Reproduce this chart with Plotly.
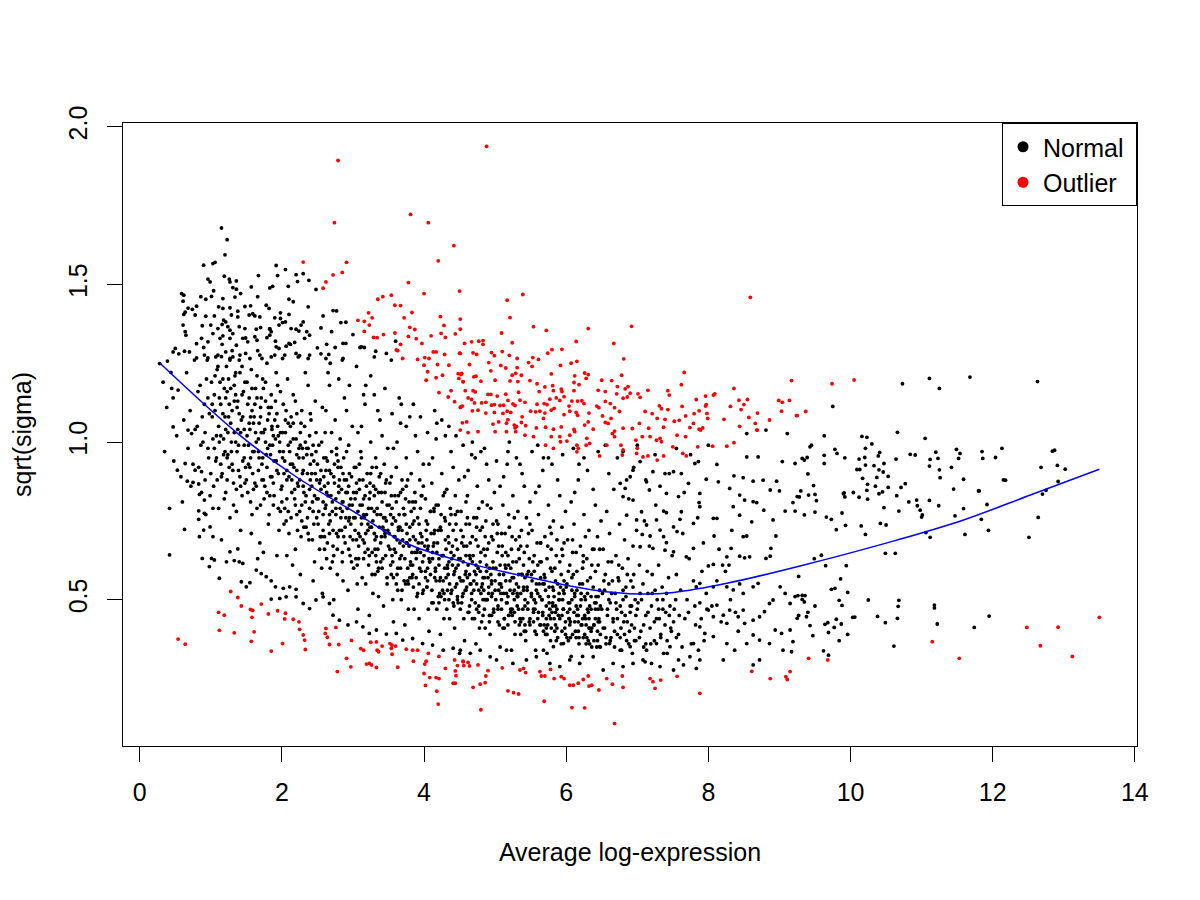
import plotly.graph_objects as go

# ---- data ----

# blue trend curve (sqrt(sigma) vs average log-expression)
trend_x = [0.29, 1.38, 2.20, 3.05, 3.75, 4.55, 5.44, 6.38, 7.04, 7.51, 8.26, 9.29, 10.65, 11.59, 12.53, 13.50]
trend_y = [1.249, 1.027, 0.890, 0.774, 0.679, 0.620, 0.573, 0.531, 0.518, 0.523, 0.552, 0.607, 0.689, 0.753, 0.832, 0.914]

# normal genes, upper left fringe
normal_upper_left = [
    (1.15,1.679),(1.23,1.642),(1.20,1.594),(0.90,1.561),(1.03,1.566),(1.06,1.57),(1.92,1.56),(2.05,1.547),(1.67,1.528),
    (1.19,1.526),(1.94,1.528),(2.20,1.531),(2.30,1.534),(0.96,1.517),(0.99,1.508),(1.26,1.517),(1.27,1.508),(1.36,1.511),
    (2.22,1.509),(2.38,1.513),(1.04,1.48),(1.31,1.49),(1.36,1.485),(1.57,1.492),(1.83,1.489),(1.87,1.494),(2.09,1.494),
    (2.48,1.484),(0.59,1.471),(0.62,1.466),(0.61,1.447),(0.86,1.461),(0.93,1.453),(1.01,1.462),(1.17,1.455),(1.34,1.46),
    (1.42,1.471),(1.66,1.461),(2.10,1.453),(2.16,1.445),(2.37,1.429),(0.64,1.412),(0.68,1.425),(0.74,1.421),(0.80,1.431),
    (1.11,1.429),(1.17,1.424),(1.27,1.426),(1.38,1.415),(1.48,1.43),(1.56,1.432),(1.78,1.434),(1.82,1.424),(1.98,1.41),
    (2.10,1.405),(2.72,1.417),(2.77,1.416),(0.62,1.405),(0.78,1.403),(0.93,1.399),(1.05,1.40),(1.18,1.387),(1.21,1.381),
    (1.29,1.403),(1.38,1.397),(1.54,1.403),(1.59,1.407),(1.69,1.397),(1.90,1.394),(1.98,1.392),(2.05,1.381),(2.30,1.381),
    (2.27,1.371),(2.55,1.362),(2.83,1.379),(0.61,1.371),(0.88,1.369),(1.00,1.371),(1.16,1.373),(1.24,1.366),(1.27,1.355),
    (1.31,1.344),(1.40,1.366),(1.48,1.36),(1.64,1.358),(1.70,1.363),(1.83,1.358),(1.85,1.35),(1.96,1.371),(2.01,1.379),
    (2.13,1.36),(2.20,1.358),(2.24,1.352),(2.39,1.339),(2.63,1.31),(2.86,1.313),(2.90,1.313),(3.00,1.341),(0.65,1.339),
    (0.80,1.312),(0.87,1.329),(1.03,1.344),(0.96,1.318),(1.13,1.329),(1.17,1.337),(1.27,1.329),(1.36,1.307),(1.45,1.329),
    (1.52,1.318),(1.62,1.334),(1.65,1.323),(1.79,1.331),(1.83,1.339),(1.92,1.302),(1.96,1.297),(2.06,1.304),(2.10,1.313),
    (2.18,1.316),(2.32,1.329),(2.50,1.299),(3.12,1.302),(3.16,1.30),(3.32,1.288),(0.47,1.286),(0.39,1.257),(0.50,1.297),
    (0.63,1.288),(0.70,1.286),(0.80,1.267),(0.91,1.276),(0.96,1.267),(1.10,1.276),(1.15,1.271),(1.21,1.286),(1.27,1.265),
    (1.31,1.27),(1.41,1.276),(1.49,1.281),(1.55,1.265),(1.69,1.276),(1.72,1.265),(1.85,1.27),(1.90,1.276),(2.01,1.265),
    (2.04,1.276),(2.20,1.281),(2.25,1.274),(2.37,1.265),(2.39,1.276),(2.62,1.265),(2.66,1.278),(2.86,1.265),(3.47,1.281),
    (3.54,1.26),(0.28,1.249),(0.44,1.221),(0.54,1.165),(0.47,1.14),(0.47,1.048),(0.68,1.038),(0.73,1.027),
    (2.55,1.28),(2.65,1.22),(2.75,1.30),(2.85,1.26),(2.95,1.18),(3.05,1.24),(3.15,1.15),(3.25,1.21),(3.35,1.10),
    (3.45,1.17),(3.55,1.09),(3.65,1.14),(3.75,1.05),(3.85,1.12),(3.95,1.08),(4.05,1.03),(4.15,1.10),(4.25,1.07),
    (4.35,1.05),(4.45,1.02),(2.58,1.40),(2.70,1.35),(2.90,1.38),(3.10,1.30),(3.30,1.27),(3.60,1.32),
]

# normal genes, lower left edge
normal_lower_left = [
    (0.53,0.911),(0.64,0.932),(0.67,0.876),(0.75,0.872),(0.83,0.867),(0.78,0.911),(0.87,0.906),(0.63,0.723),(0.42,0.642),
    (0.84,0.834),(0.91,0.816),(0.83,0.782),(0.91,0.774),(0.83,0.755),(0.90,0.721),(0.99,0.731),(1.03,0.70),(0.88,0.631),
    (1.01,0.631),(1.05,0.626),(0.98,0.605),(1.12,0.568),(1.27,0.652),(1.38,0.661),(1.22,0.62),(1.33,0.624),(1.43,0.557),
    (1.50,0.541),(1.55,0.554),(1.40,0.62),(1.45,0.615),(1.64,0.594),(1.71,0.583),(1.78,0.573),(1.85,0.56),(1.91,0.541),
    (2.02,0.536),(2.11,0.541),(2.20,0.533),(1.85,0.502),(1.97,0.504),(2.06,0.509),(2.20,0.509),(2.30,0.488),(2.39,0.472),
    (2.48,0.499),(2.58,0.509),(2.67,0.488),(2.72,0.451),(2.81,0.435),(2.93,0.42),(3.05,0.43),(3.14,0.414),(3.23,0.393),
    (3.33,0.404),(3.47,0.391),(3.61,0.393),(3.70,0.372),(3.84,0.377),(3.98,0.361),(4.12,0.356),(4.27,0.34),(4.41,0.346),
    (4.50,0.33),(4.51,0.34),(4.65,0.33),(4.79,0.34),(4.93,0.319),(5.02,0.309),(5.16,0.34),(5.25,0.298),(5.44,0.309),
    (5.58,0.319),(5.77,0.298),(5.91,0.288),(6.05,0.309),(6.19,0.298),(6.38,0.319),(6.52,0.277),(6.66,0.298),(6.80,0.288),
    (6.94,0.298),(7.08,0.309),(5.68,0.34),(5.82,0.351),(5.96,0.361),(6.47,0.351),(6.61,0.361),(6.76,0.34),(6.90,0.351),
    (7.13,0.34),(7.27,0.361),(7.37,0.33),(7.46,0.351),
]

# normal genes, dense band from x = 0.3 to 2.5
normal_core_left = [
    (1.02,1.12),(1.05,0.98),(1.07,1.27),(1.09,0.88),(1.11,1.05),(1.13,1.19),(1.14,0.93),(1.16,1.31),(1.18,1.01),(1.19,0.82),
    (1.21,1.14),(1.22,1.24),(1.24,0.96),(1.25,1.08),(1.27,0.76),(1.28,1.17),(1.30,1.29),(1.31,0.91),(1.33,1.03),(1.34,1.21),
    (1.36,0.85),(1.37,1.11),(1.39,0.99),(1.40,1.26),(1.42,0.72),(1.43,1.07),(1.45,0.94),(1.46,1.16),(1.48,0.87),(1.49,1.33),
    (1.03,0.79),(1.06,1.21),(1.10,1.36),(1.15,0.69),(1.20,0.97),(1.26,1.12),(1.32,0.80),(1.38,1.04),(1.44,1.24),(1.47,0.99),
    (1.08,1.02),(1.17,1.09),(1.23,0.88),(1.29,1.00),(1.35,1.15),(1.41,0.89),(0.96,1.14),(0.92,1.03),(0.97,0.95),(0.94,1.20),
    (0.88,1.08),(0.99,0.83),(0.93,0.77),(0.86,0.99),(0.82,1.16),(0.78,1.04),(0.75,0.93),(0.71,1.10),(0.68,0.98),(0.66,1.22),
    (0.62,1.07),(0.58,0.89),(0.55,1.28),(0.52,1.02),(0.48,0.94),(0.45,1.17),(0.42,0.79),(0.38,1.11),(0.35,0.97),(0.33,1.19),
    (0.60,0.81),(0.72,0.86),(0.84,0.70),(0.90,1.30),(0.77,1.26),(0.64,1.35),
    (1.51,1.02),(1.52,0.84),(1.54,1.14),(1.55,0.92),(1.57,1.23),(1.58,0.77),(1.60,1.06),(1.61,0.97),(1.63,1.17),(1.64,0.86),
    (1.66,1.29),(1.67,1.01),(1.69,0.68),(1.70,1.11),(1.72,0.93),(1.73,1.20),(1.75,0.82),(1.76,1.04),(1.78,0.96),(1.79,1.25),
    (1.81,0.74),(1.82,1.09),(1.84,0.89),(1.85,1.15),(1.87,0.99),(1.88,0.80),(1.90,1.07),(1.91,1.32),(1.93,0.91),(1.94,1.18),
    (1.96,0.72),(1.97,1.00),(1.99,0.85),(1.53,0.99),(1.56,1.08),(1.59,0.90),(1.62,1.12),(1.65,0.79),(1.68,0.95),(1.71,1.03),
    (1.74,0.88),(1.77,1.13),(1.80,0.98),(1.83,0.83),(1.86,1.05),(1.89,0.94),(1.92,1.22),(1.95,1.02),(1.98,0.78),(1.57,0.71),
    (1.66,0.63),(1.74,0.65),(1.83,1.36),(1.62,1.40),(1.93,0.64),
    (2.01,0.95),(2.02,1.12),(2.04,0.79),(2.05,1.03),(2.07,0.88),(2.08,1.20),(2.10,0.71),(2.11,0.97),(2.13,1.08),(2.14,0.84),
    (2.16,1.15),(2.17,0.92),(2.19,0.66),(2.20,1.01),(2.22,0.87),(2.23,1.27),(2.25,0.78),(2.26,0.99),(2.28,1.10),(2.29,0.90),
    (2.31,0.73),(2.32,1.05),(2.34,0.83),(2.35,0.96),(2.37,1.18),(2.38,0.69),(2.40,0.93),(2.41,1.07),(2.43,0.81),(2.44,0.99),
    (2.46,0.62),(2.47,1.13),(2.49,0.88),(2.03,0.90),(2.06,0.75),(2.09,1.06),(2.12,0.93),(2.15,0.61),(2.18,0.82),(2.21,1.09),
    (2.24,0.95),(2.27,0.70),(2.30,0.86),(2.33,1.22),(2.36,0.76),(2.39,1.02),(2.42,0.90),(2.45,0.74),(2.48,0.97),(2.12,1.31),
    (2.26,0.58),(2.35,1.35),(2.44,0.56),(2.07,0.64),(2.21,0.77),(2.39,0.85),(2.29,0.98),
    (0.81,1.05),(0.83,0.92),(0.85,1.18),(0.87,0.84),(0.89,1.00),(0.91,1.12),(0.92,0.88),(0.95,1.26),(0.96,0.98),(0.98,1.09),
    (1.00,0.90),(1.01,1.19),(1.03,1.01),(1.04,0.86),(1.06,1.10),(1.08,0.95),(1.09,1.23),(1.11,0.79),(1.12,1.14),(1.14,1.02),
    (1.15,0.89),(1.17,1.20),(1.18,0.96),(1.20,1.08),(1.21,0.84),(1.23,1.16),(1.24,1.03),(1.26,0.92),(1.27,1.26),(1.29,0.97),
    (1.30,1.10),(1.32,0.87),(1.33,1.18),(1.35,1.00),(1.36,0.78),(1.38,1.13),(1.39,0.91),(1.41,1.22),(1.42,1.03),(1.44,0.83),
    (1.45,1.08),(1.47,0.95),(1.48,1.19),(1.50,0.88),(1.52,1.12),(1.53,0.93),(1.55,1.04),(1.56,0.81),(1.58,1.17),(1.59,0.97),
    (1.61,1.08),(1.62,0.87),(1.64,1.00),(1.65,1.21),(1.67,0.91),(1.68,1.06),(1.70,0.80),(1.71,1.14),(1.73,0.95),(1.74,1.03),
    (1.76,0.86),(1.77,1.19),(1.79,0.92),(1.80,1.07),(1.82,0.77),(1.83,0.99),(1.85,1.11),(1.86,0.89),(1.88,1.02),(1.89,0.83),
    (1.91,1.13),(1.92,0.94),(1.94,1.05),(1.95,0.79),(1.97,0.97),(1.98,1.16),(2.00,0.86),(2.01,1.03),(2.03,0.74),(2.04,0.94),
    (2.06,1.10),(2.07,0.82),(2.09,0.99),(2.10,0.89),(2.12,1.05),(2.13,0.76),(2.15,0.93),(2.16,1.01),(2.18,0.85),(2.19,1.13),
    (2.21,0.91),(2.22,0.72),(2.24,0.98),(2.25,0.88),(2.27,1.06),(2.28,0.80),(2.30,0.95),(2.31,0.84),(2.33,1.00),(2.34,0.73),
    (2.36,0.90),(2.37,0.98),(2.39,0.79),(2.40,1.09),(2.42,0.86),(2.43,0.69),(2.45,0.94),(2.46,0.83),(2.48,1.03),(2.49,0.76),
    (1.02,1.08),(1.05,1.15),(1.07,0.94),(1.10,1.24),(1.12,1.00),(1.14,1.12),(1.16,0.90),(1.19,1.17),(1.21,1.04),(1.23,0.95),
    (1.25,1.20),(1.28,1.06),(1.30,0.93),(1.33,1.13),(1.35,1.22),(1.37,0.97),(1.40,1.09),(1.42,0.86),(1.44,1.15),(1.47,1.04),
    (1.49,0.92),(1.51,1.19),(1.54,1.06),(1.56,0.95),(1.58,1.10),(1.60,0.85),(1.63,1.03),(1.65,1.14),(1.67,0.97),(1.70,1.08),
    (1.72,0.88),(1.74,1.17),(1.77,1.00),(1.79,0.84),(1.81,1.11),(1.84,0.96),(1.86,1.04),(1.88,0.87),(1.91,1.01),(1.93,1.09),
    (1.95,0.90),(1.98,1.03),(2.00,0.81),(2.02,0.97),(2.05,1.07),(2.07,0.91),(2.09,0.78),(2.12,1.00),(2.14,0.88),(2.16,1.06),
    (2.19,0.80),(2.21,0.96),(2.23,0.86),(2.26,1.03),(2.28,0.75),(2.30,0.91),(2.33,0.81),(2.35,0.98),(2.37,0.71),(2.40,0.88),
    (2.42,0.96),(2.44,0.78),(2.47,0.90),(2.49,0.82),
]

# normal genes, dense band from x = 2.5 to 4.5
normal_core_mid = [
    (2.51,0.82),(2.52,0.99),(2.54,0.70),(2.55,0.91),(2.57,1.11),(2.58,0.77),(2.60,0.86),(2.61,1.03),(2.63,0.63),(2.64,0.94),
    (2.66,0.74),(2.67,1.18),(2.69,0.83),(2.70,0.97),(2.72,0.67),(2.73,0.89),(2.75,1.07),(2.76,0.79),(2.78,0.58),(2.79,0.92),
    (2.81,0.72),(2.82,1.01),(2.84,0.85),(2.85,0.65),(2.87,0.95),(2.88,1.14),(2.90,0.76),(2.91,0.88),(2.93,0.53),(2.94,0.99),
    (2.96,0.70),(2.97,0.82),(2.99,1.05),(2.53,0.87),(2.56,0.60),(2.59,0.95),(2.62,0.80),(2.65,0.87),(2.68,0.60),(2.71,0.78),
    (2.74,0.93),(2.77,0.71),(2.80,0.84),(2.83,0.76),(2.86,0.90),(2.89,0.68),(2.92,0.79),(2.95,0.90),(2.98,0.62),(2.57,0.52),
    (2.68,1.25),(2.80,1.20),(2.91,1.10),(2.73,0.50),(2.62,1.10),(2.86,0.56),(2.95,0.76),(2.67,0.71),(2.77,0.98),
    (3.01,0.76),(3.02,0.92),(3.04,0.63),(3.05,0.84),(3.07,1.03),(3.08,0.71),(3.10,0.80),(3.11,0.97),(3.13,0.57),(3.14,0.88),
    (3.16,0.68),(3.17,1.12),(3.19,0.77),(3.20,0.90),(3.22,0.61),(3.23,0.82),(3.25,1.00),(3.26,0.73),(3.28,0.52),(3.29,0.86),
    (3.31,0.66),(3.32,0.95),(3.34,0.79),(3.35,0.59),(3.37,0.89),(3.38,1.07),(3.40,0.70),(3.41,0.81),(3.43,0.48),(3.44,0.93),
    (3.46,0.64),(3.47,0.75),(3.49,0.98),(3.03,0.82),(3.06,0.55),(3.09,0.88),(3.12,0.74),(3.15,0.82),(3.18,0.55),(3.21,0.72),
    (3.24,0.87),(3.27,0.65),(3.30,0.78),(3.33,0.70),(3.36,0.84),(3.39,0.62),(3.42,0.73),(3.45,0.84),(3.48,0.57),(3.07,0.47),
    (3.18,1.18),(3.30,1.15),(3.41,1.02),(3.23,0.45),(3.12,1.05),(3.36,0.51),(3.45,0.70),(3.17,0.65),(3.27,0.92),(3.05,0.69),
    (3.33,0.62),(3.47,0.88),
    (3.51,0.71),(3.52,0.87),(3.54,0.58),(3.55,0.79),(3.57,0.98),(3.58,0.66),(3.60,0.75),(3.61,0.92),(3.63,0.53),(3.64,0.83),
    (3.66,0.63),(3.67,1.06),(3.69,0.72),(3.70,0.85),(3.72,0.56),(3.73,0.77),(3.75,0.95),(3.76,0.68),(3.78,0.47),(3.79,0.81),
    (3.81,0.61),(3.82,0.90),(3.84,0.74),(3.85,0.54),(3.87,0.84),(3.88,1.02),(3.90,0.65),(3.91,0.76),(3.93,0.44),(3.94,0.88),
    (3.96,0.59),(3.97,0.70),(3.99,0.93),(3.53,0.77),(3.56,0.50),(3.59,0.83),(3.62,0.69),(3.65,0.77),(3.68,0.50),(3.71,0.67),
    (3.74,0.82),(3.77,0.60),(3.80,0.73),(3.83,0.65),(3.86,0.79),(3.89,0.57),(3.92,0.68),(3.95,0.79),(3.98,0.52),(3.57,0.43),
    (3.68,1.12),(3.80,1.08),(3.91,0.97),(3.73,0.42),(3.62,1.00),(3.86,0.47),(3.95,0.65),(3.67,0.60),(3.77,0.88),(3.55,0.64),
    (3.83,0.57),(3.97,0.83),(3.64,0.72),(3.74,0.55),(3.88,0.69),
    (4.01,0.67),(4.02,0.82),(4.04,0.54),(4.05,0.74),(4.07,0.93),(4.08,0.62),(4.10,0.71),(4.11,0.87),(4.13,0.49),(4.14,0.78),
    (4.16,0.59),(4.17,1.01),(4.19,0.68),(4.20,0.80),(4.22,0.52),(4.23,0.73),(4.25,0.90),(4.26,0.64),(4.28,0.44),(4.29,0.76),
    (4.31,0.57),(4.32,0.85),(4.34,0.70),(4.35,0.50),(4.37,0.79),(4.38,0.97),(4.40,0.61),(4.41,0.72),(4.43,0.41),(4.44,0.83),
    (4.46,0.55),(4.47,0.66),(4.49,0.88),(4.03,0.72),(4.06,0.47),(4.09,0.78),(4.12,0.65),(4.15,0.72),(4.18,0.47),(4.21,0.63),
    (4.24,0.77),(4.27,0.56),(4.30,0.69),(4.33,0.61),(4.36,0.74),(4.39,0.53),(4.42,0.64),(4.45,0.74),(4.48,0.49),(4.07,0.40),
    (4.18,1.06),(4.30,1.02),(4.41,0.92),(4.23,0.39),(4.12,0.95),(4.36,0.44),(4.45,0.60),(4.17,0.56),(4.27,0.83),(4.05,0.60),
    (4.33,0.53),(4.47,0.78),(4.14,0.68),(4.24,0.51),(4.38,0.65),(4.09,0.58),(4.42,0.48),
    (2.50,0.93),(2.52,0.78),(2.53,0.66),(2.55,0.85),(2.56,1.00),(2.58,0.72),(2.59,0.89),(2.61,0.79),(2.62,0.95),(2.64,0.68),
    (2.65,0.83),(2.67,0.91),(2.68,0.75),(2.70,1.03),(2.71,0.81),(2.73,0.64),(2.74,0.87),(2.76,0.77),(2.77,0.96),(2.79,0.70),
    (2.80,0.86),(2.82,0.79),(2.83,0.92),(2.85,0.62),(2.86,0.81),(2.88,0.88),(2.89,0.73),(2.91,0.97),(2.92,0.84),(2.94,0.66),
    (2.95,0.80),(2.97,0.74),(2.98,0.89),(3.00,0.69),(3.01,0.84),(3.03,0.76),(3.04,0.92),(3.06,0.61),(3.07,0.78),(3.09,0.85),
    (3.10,0.70),(3.12,0.95),(3.13,0.80),(3.15,0.63),(3.16,0.76),(3.18,0.71),(3.19,0.86),(3.21,0.66),(3.22,0.79),(3.24,0.73),
    (3.25,0.90),(3.27,0.58),(3.28,0.75),(3.30,0.83),(3.31,0.69),(3.33,0.92),(3.34,0.77),(3.36,0.60),(3.37,0.73),(3.39,0.68),
    (3.40,0.84),(3.42,0.63),(3.43,0.76),(3.45,0.71),(3.46,0.87),(3.48,0.55),(3.49,0.72),(3.51,0.80),(3.52,0.66),(3.54,0.89),
    (3.55,0.74),(3.57,0.57),(3.58,0.70),(3.60,0.65),(3.61,0.81),(3.63,0.60),(3.64,0.73),(3.66,0.68),(3.67,0.84),(3.69,0.53),
    (3.70,0.69),(3.72,0.77),(3.73,0.63),(3.75,0.86),(3.76,0.71),(3.78,0.55),(3.79,0.67),(3.81,0.62),(3.82,0.78),(3.84,0.58),
    (3.85,0.70),(3.87,0.65),(3.88,0.81),(3.90,0.51),(3.91,0.66),(3.93,0.74),(3.94,0.60),(3.96,0.83),(3.97,0.68),(3.99,0.53),
    (4.00,0.64),(4.02,0.59),(4.03,0.75),(4.05,0.56),(4.06,0.67),(4.08,0.62),(4.09,0.78),(4.11,0.49),(4.12,0.63),(4.14,0.71),
    (4.15,0.57),(4.17,0.80),(4.18,0.65),(4.20,0.51),(4.21,0.61),(4.23,0.57),(4.24,0.72),(4.26,0.53),(4.27,0.64),(4.29,0.60),
    (4.30,0.75),(4.32,0.47),(4.33,0.60),(4.35,0.68),(4.36,0.55),(4.38,0.77),(4.39,0.63),(4.41,0.49),(4.42,0.58),(4.44,0.54),
    (4.45,0.69),(4.47,0.51),(4.48,0.61),(2.60,0.70),(2.84,0.72),(3.08,0.67),(3.32,0.64),(3.56,0.62),(3.80,0.57),(4.04,0.54),
    (4.28,0.52),
    (2.51,0.74),(2.54,0.88),(2.58,0.81),(2.60,0.66),(2.63,0.84),(2.67,0.77),(2.69,0.90),(2.72,0.72),(2.76,0.82),(2.78,0.66),
    (2.81,0.88),(2.85,0.78),(2.87,0.70),(2.90,0.84),(2.94,0.75),(2.96,0.64),(2.99,0.80),(3.03,0.72),(3.05,0.87),(3.08,0.63),
    (3.12,0.76),(3.14,0.69),(3.17,0.83),(3.21,0.74),(3.23,0.64),(3.26,0.79),(3.30,0.71),(3.32,0.85),(3.35,0.66),(3.39,0.77),
    (3.41,0.60),(3.44,0.72),(3.48,0.80),(3.50,0.67),(3.53,0.61),(3.57,0.76),(3.59,0.70),(3.62,0.58),(3.66,0.73),(3.68,0.64),
    (3.71,0.79),(3.75,0.68),(3.77,0.56),(3.80,0.69),(3.84,0.61),(3.86,0.75),(3.89,0.63),(3.93,0.55),(3.95,0.71),(3.98,0.62),
    (4.02,0.57),(4.04,0.69),(4.07,0.63),(4.11,0.53),(4.13,0.67),(4.16,0.60),(4.20,0.72),(4.22,0.56),(4.25,0.64),(4.29,0.50),
    (4.31,0.66),(4.34,0.58),(4.38,0.52),(4.40,0.67),(4.43,0.59),(4.47,0.50),(4.49,0.63),
    (2.56,0.70),(2.71,0.62),(2.85,0.81),(3.01,0.60),(3.15,0.77),(3.31,0.58),(3.45,0.76),(3.61,0.55),(3.75,0.74),(3.91,0.52),
    (4.05,0.66),(4.21,0.49),(4.35,0.62),(2.62,0.91),(2.79,0.94),(2.94,0.86),(3.09,0.93),(3.24,0.84),(3.39,0.90),(3.54,0.83),
    (3.69,0.88),(3.84,0.81),(3.99,0.86),(4.14,0.79),(4.29,0.84),(4.44,0.77),
]

# normal genes, dense band from x = 4.5 to 8
normal_core_right = [
    (4.51,0.63),(4.52,0.78),(4.54,0.51),(4.55,0.70),(4.57,0.89),(4.58,0.58),(4.60,0.67),(4.61,0.83),(4.63,0.46),(4.64,0.74),
    (4.66,0.55),(4.67,0.96),(4.69,0.64),(4.70,0.76),(4.72,0.49),(4.73,0.69),(4.75,0.86),(4.76,0.60),(4.78,0.41),(4.79,0.72),
    (4.81,0.54),(4.82,0.81),(4.84,0.66),(4.85,0.47),(4.87,0.75),(4.88,0.93),(4.90,0.57),(4.91,0.68),(4.93,0.39),(4.94,0.79),
    (4.96,0.52),(4.97,0.62),(4.99,0.84),(4.53,0.68),(4.56,0.44),(4.59,0.74),(4.62,0.61),(4.65,0.68),(4.68,0.44),(4.71,0.59),
    (4.74,0.73),(4.77,0.53),(4.80,0.65),(4.83,0.57),(4.86,0.70),(4.89,0.50),(4.92,0.60),(4.95,0.70),(4.98,0.46),(4.57,0.37),
    (4.68,1.00),(4.80,0.97),(4.91,0.88),(4.73,0.36),(4.62,0.91),(4.86,0.41),(4.95,0.56),(4.67,0.52),(4.77,0.79),(4.55,0.56),
    (4.83,0.50),(4.97,0.74),(4.64,0.64),(4.74,0.47),(4.88,0.61),(4.59,0.53),(4.92,0.45),
    (5.01,0.60),(5.02,0.75),(5.04,0.48),(5.05,0.67),(5.07,0.86),(5.08,0.55),(5.10,0.64),(5.11,0.80),(5.13,0.44),(5.14,0.71),
    (5.16,0.52),(5.17,0.93),(5.19,0.61),(5.20,0.73),(5.22,0.46),(5.23,0.66),(5.25,0.83),(5.26,0.57),(5.28,0.39),(5.29,0.69),
    (5.31,0.51),(5.32,0.78),(5.34,0.63),(5.35,0.44),(5.37,0.72),(5.38,0.90),(5.40,0.54),(5.41,0.65),(5.43,0.37),(5.44,0.76),
    (5.46,0.49),(5.47,0.59),(5.49,0.81),(5.03,0.65),(5.06,0.42),(5.09,0.71),(5.12,0.58),(5.15,0.65),(5.18,0.42),(5.21,0.56),
    (5.24,0.70),(5.27,0.50),(5.30,0.62),(5.33,0.54),(5.36,0.67),(5.39,0.47),(5.42,0.57),(5.45,0.67),(5.48,0.43),(5.07,0.35),
    (5.18,0.97),(5.30,0.95),(5.41,0.86),(5.23,0.34),(5.12,0.89),(5.36,0.39),(5.45,0.53),(5.17,0.49),(5.27,0.76),(5.05,0.53),
    (5.33,0.47),(5.47,0.71),(5.14,0.61),(5.24,0.45),(5.38,0.58),(5.09,0.50),(5.42,0.42),
    (5.51,0.58),(5.52,0.72),(5.54,0.46),(5.55,0.64),(5.57,0.84),(5.58,0.53),(5.60,0.61),(5.61,0.77),(5.63,0.42),(5.64,0.68),
    (5.66,0.50),(5.67,0.91),(5.69,0.58),(5.70,0.70),(5.72,0.44),(5.73,0.63),(5.75,0.80),(5.76,0.54),(5.78,0.37),(5.79,0.66),
    (5.81,0.49),(5.82,0.75),(5.84,0.60),(5.85,0.42),(5.87,0.69),(5.88,0.88),(5.90,0.52),(5.91,0.62),(5.93,0.36),(5.94,0.73),
    (5.96,0.47),(5.97,0.56),(5.99,0.78),(5.53,0.62),(5.56,0.40),(5.59,0.68),(5.62,0.55),(5.65,0.62),(5.68,0.40),(5.71,0.53),
    (5.74,0.67),(5.77,0.47),(5.80,0.59),(5.83,0.51),(5.86,0.64),(5.89,0.45),(5.92,0.54),(5.95,0.64),(5.98,0.41),(5.57,0.34),
    (5.68,0.95),(5.80,0.93),(5.91,0.83),(5.73,0.33),(5.62,0.86),(5.86,0.37),(5.95,0.50),(5.67,0.46),(5.77,0.73),(5.55,0.50),
    (5.83,0.44),(5.97,0.68),(5.64,0.57),(5.74,0.42),(5.88,0.55),
    (6.01,0.55),(6.02,0.69),(6.04,0.44),(6.05,0.61),(6.07,0.81),(6.08,0.50),(6.10,0.58),(6.11,0.74),(6.13,0.40),(6.14,0.65),
    (6.16,0.47),(6.17,0.88),(6.19,0.55),(6.20,0.67),(6.22,0.42),(6.23,0.60),(6.25,0.77),(6.26,0.51),(6.28,0.36),(6.29,0.63),
    (6.31,0.46),(6.32,0.72),(6.34,0.57),(6.35,0.40),(6.37,0.66),(6.38,0.85),(6.40,0.49),(6.41,0.59),(6.43,0.35),(6.44,0.70),
    (6.46,0.44),(6.47,0.53),(6.49,0.75),(6.03,0.59),(6.06,0.38),(6.09,0.65),(6.12,0.52),(6.15,0.59),(6.18,0.38),(6.21,0.50),
    (6.24,0.64),(6.27,0.44),(6.30,0.56),(6.33,0.48),(6.36,0.61),(6.39,0.42),(6.42,0.51),(6.45,0.61),(6.48,0.39),(6.07,0.32),
    (6.18,0.93),(6.30,0.91),(6.41,0.80),(6.23,0.32),(6.12,0.84),(6.36,0.35),(6.45,0.47),(6.17,0.43),(6.27,0.70),(6.05,0.47),
    (6.33,0.41),(6.47,0.66),
    (6.51,0.52),(6.52,0.66),(6.54,0.41),(6.55,0.58),(6.57,0.78),(6.58,0.47),(6.60,0.55),(6.61,0.71),(6.63,0.38),(6.64,0.62),
    (6.66,0.44),(6.67,0.85),(6.69,0.52),(6.70,0.64),(6.72,0.39),(6.73,0.57),(6.75,0.74),(6.76,0.48),(6.78,0.34),(6.79,0.60),
    (6.81,0.43),(6.82,0.69),(6.84,0.54),(6.85,0.37),(6.87,0.63),(6.88,0.82),(6.90,0.46),(6.91,0.56),(6.93,0.33),(6.94,0.67),
    (6.96,0.41),(6.97,0.50),(6.99,0.72),(6.53,0.56),(6.56,0.36),(6.59,0.62),(6.62,0.49),(6.65,0.56),(6.68,0.35),(6.71,0.47),
    (6.74,0.61),(6.77,0.41),(6.80,0.53),(6.83,0.45),(6.86,0.58),(6.89,0.40),(6.92,0.48),(6.95,0.58),(6.98,0.37),(6.60,0.90),
    (6.72,0.95),(6.85,0.88),(6.95,0.92),
    (7.01,0.49),(7.03,0.61),(7.05,0.40),(7.08,0.55),(7.10,0.75),(7.12,0.45),(7.15,0.52),(7.17,0.67),(7.19,0.36),(7.21,0.58),
    (7.24,0.43),(7.26,0.80),(7.28,0.50),(7.30,0.61),(7.33,0.38),(7.35,0.54),(7.37,0.70),(7.40,0.46),(7.42,0.33),(7.44,0.57),
    (7.47,0.41),(7.49,0.64),(7.04,0.52),(7.09,0.35),(7.14,0.59),(7.20,0.48),(7.25,0.53),(7.31,0.44),(7.36,0.47),(7.41,0.52),
    (7.46,0.48),(7.12,0.88),(7.32,0.86),(7.45,0.90),
    (7.52,0.47),(7.55,0.58),(7.58,0.39),(7.61,0.53),(7.64,0.71),(7.67,0.44),(7.70,0.50),(7.73,0.63),(7.76,0.36),(7.79,0.56),
    (7.82,0.42),(7.85,0.76),(7.88,0.49),(7.91,0.59),(7.94,0.37),(7.97,0.52),(7.54,0.50),(7.63,0.35),(7.72,0.46),(7.81,0.48),
    (7.90,0.44),(7.98,0.47),(7.66,0.84),(7.93,0.68),
    (4.55,0.99),(4.72,0.95),(4.85,0.98),(5.02,0.94),(5.20,1.00),(5.35,0.93),(5.52,0.97),(5.60,0.99),(5.75,0.95),(5.95,0.96),
    (6.10,0.98),(6.25,0.95),(6.45,0.97),(6.55,0.99),(6.80,0.97),(7.00,0.99),(7.25,0.96),(7.55,0.98),(7.75,0.96),(8.00,0.99),
    (4.50,0.57),(4.52,0.72),(4.53,0.49),(4.55,0.62),(4.56,0.67),(4.58,0.53),(4.59,0.59),(4.61,0.76),(4.62,0.46),(4.64,0.58),
    (4.65,0.63),(4.67,0.50),(4.68,0.70),(4.70,0.56),(4.71,0.44),(4.73,0.61),(4.74,0.55),(4.76,0.67),(4.77,0.48),(4.79,0.59),
    (4.80,0.52),(4.82,0.73),(4.83,0.45),(4.85,0.57),(4.86,0.64),(4.88,0.50),(4.89,0.66),(4.91,0.54),(4.92,0.43),(4.94,0.58),
    (4.95,0.51),(4.97,0.69),(4.98,0.47),(5.00,0.56),(5.01,0.50),(5.03,0.71),(5.04,0.43),(5.06,0.55),(5.07,0.61),(5.09,0.47),
    (5.10,0.67),(5.12,0.52),(5.13,0.41),(5.15,0.56),(5.16,0.49),(5.18,0.64),(5.19,0.45),(5.21,0.53),(5.22,0.60),(5.24,0.47),
    (5.25,0.62),(5.27,0.53),(5.28,0.43),(5.30,0.55),(5.31,0.48),(5.33,0.66),(5.34,0.42),(5.36,0.52),(5.37,0.58),(5.39,0.44),
    (5.40,0.61),(5.42,0.50),(5.43,0.40),(5.45,0.54),(5.46,0.47),(5.48,0.63),(5.49,0.44),(5.51,0.51),(5.52,0.56),(5.54,0.43),
    (5.55,0.59),(5.57,0.49),(5.58,0.39),(5.60,0.52),(5.61,0.46),(5.63,0.62),(5.64,0.42),(5.66,0.50),(5.67,0.55),(5.69,0.42),
    (5.70,0.57),(5.72,0.48),(5.73,0.39),(5.75,0.51),(5.76,0.45),(5.78,0.60),(5.79,0.41),(5.81,0.48),(5.82,0.53),(5.84,0.40),
    (5.85,0.56),(5.87,0.47),(5.88,0.38),(5.90,0.50),(5.91,0.44),(5.93,0.58),(5.94,0.40),(5.96,0.47),(5.97,0.52),(5.99,0.39),
    (6.00,0.54),(6.02,0.46),(6.03,0.37),(6.05,0.49),(6.06,0.43),(6.08,0.57),(6.09,0.39),(6.11,0.46),(6.12,0.51),(6.14,0.38),
    (6.15,0.53),(6.17,0.45),(6.18,0.36),(6.20,0.48),(6.21,0.42),(6.23,0.55),(6.24,0.38),(6.26,0.45),(6.27,0.50),(6.29,0.38),
    (6.30,0.52),(6.32,0.44),(6.33,0.36),(6.35,0.47),(6.36,0.41),(6.38,0.54),(6.39,0.37),(6.41,0.44),(6.42,0.49),(6.44,0.37),
    (6.45,0.51),(6.47,0.43),(6.48,0.35),(4.60,0.54),(4.84,0.53),(5.08,0.52),(5.32,0.51),(5.56,0.47),(5.80,0.46),(6.04,0.44),
    (6.28,0.42),
    (6.50,0.47),(6.52,0.41),(6.54,0.53),(6.56,0.38),(6.58,0.45),(6.60,0.50),(6.62,0.37),(6.64,0.52),(6.66,0.43),(6.68,0.40),
    (6.70,0.49),(6.72,0.44),(6.74,0.56),(6.76,0.38),(6.78,0.46),(6.80,0.50),(6.82,0.39),(6.84,0.51),(6.86,0.43),(6.88,0.36),
    (6.90,0.48),(6.92,0.42),(6.94,0.54),(6.96,0.37),(6.98,0.45),(7.00,0.47),(7.03,0.38),(7.06,0.50),(7.09,0.42),(7.12,0.36),
    (7.15,0.46),(7.18,0.41),(7.21,0.52),(7.24,0.37),(7.27,0.44),(7.30,0.47),(7.33,0.39),(7.36,0.50),(7.39,0.42),(7.42,0.37),
    (7.45,0.45),(7.48,0.40),(7.51,0.43),(7.55,0.38),(7.59,0.45),
    (4.52,0.56),(4.55,0.52),(4.59,0.64),(4.61,0.57),(4.64,0.48),(4.68,0.62),(4.70,0.53),(4.73,0.58),(4.77,0.46),(4.79,0.62),
    (4.82,0.55),(4.86,0.50),(4.88,0.59),(4.91,0.52),(4.95,0.45),(4.97,0.60),(5.00,0.53),(5.04,0.47),(5.06,0.58),(5.09,0.54),
    (5.13,0.44),(5.15,0.60),(5.18,0.51),(5.22,0.47),(5.24,0.57),(5.27,0.46),(5.31,0.52),(5.33,0.58),(5.36,0.43),(5.40,0.53),
    (5.42,0.48),(5.45,0.58),(5.49,0.42),(5.51,0.52),(5.54,0.47),(5.58,0.55),(5.60,0.44),(5.63,0.51),(5.67,0.45),(5.69,0.55),
    (5.72,0.41),(5.76,0.49),(5.78,0.44),(5.81,0.54),(5.85,0.46),(5.87,0.41),(5.90,0.50),(5.94,0.45),(5.96,0.53),(5.99,0.43),
    (6.03,0.49),(6.05,0.42),(6.08,0.53),(6.12,0.43),(6.14,0.48),(6.17,0.40),(6.21,0.52),(6.23,0.44),(6.26,0.39),(6.30,0.47),
    (6.32,0.41),(6.35,0.51),(6.39,0.42),(6.41,0.47),(6.44,0.40),(6.48,0.48),
    (4.51,0.47),(4.65,0.55),(4.81,0.43),(4.95,0.55),(5.11,0.41),(5.25,0.52),(5.41,0.40),(5.55,0.50),(5.71,0.39),(5.85,0.48),
    (6.01,0.38),(6.15,0.45),(6.31,0.37),(6.45,0.43),(4.59,0.81),(4.74,0.76),(4.89,0.80),(5.04,0.74),(5.19,0.77),(5.34,0.70),
    (5.49,0.74),(5.64,0.68),(5.79,0.71),(5.94,0.66),(6.09,0.69),(6.24,0.62),(6.39,0.66),
]

# normal genes, sparse right side (x = 6.8 to 9.3)
normal_right = [
    (8.54,1.027),(8.81,1.038),(9.11,1.027),(8.54,0.953),(8.70,0.953),(9.04,0.938),(9.22,0.932),(7.86,0.938),(7.81,0.932),
    (8.12,0.929),(8.36,0.893),(8.49,0.887),(8.63,0.876),(8.77,0.879),(8.96,0.876),(7.97,0.882),(8.14,0.874),(8.30,0.853),
    (8.44,0.832),(8.51,0.816),(8.63,0.811),(8.68,0.808),(8.87,0.848),(9.00,0.845),(9.19,0.808),(9.08,0.781),(9.22,0.781),
    (7.88,0.795),(7.87,0.808),(8.07,0.758),(8.12,0.758),(8.35,0.795),(8.44,0.768),(8.61,0.747),(8.78,0.784),(8.91,0.753),
    (8.95,0.702),(8.49,0.70),(8.54,0.702),(8.08,0.702),(8.32,0.663),(8.26,0.636),(8.44,0.638),(8.51,0.633),(8.58,0.636),
    (8.81,0.631),(8.87,0.638),(8.88,0.663),(8.00,0.607),(8.07,0.612),(8.20,0.61),(8.29,0.61),(7.69,0.636),(7.79,0.663),
    (7.56,0.716),(7.51,0.731),(7.60,0.755),(7.62,0.779),(7.37,0.781),(7.41,0.776),(7.27,0.753),(7.32,0.721),(7.07,0.707),
    (7.18,0.702),(7.04,0.668),(7.22,0.663),(7.41,0.681),(7.51,0.652),(7.39,0.657),(7.79,0.742),(7.41,0.837),(7.58,0.827),
    (7.72,0.869),(7.88,0.837),(7.39,0.90),(7.51,0.906),(7.62,0.90),(7.04,0.938),(7.22,0.906),(6.94,0.911),(6.90,0.89),
    (7.13,0.874),(7.17,0.848),(6.83,0.853),(6.76,0.869),(6.80,0.827),(6.94,0.816),(7.06,0.779),(6.85,0.768),(6.99,0.753),
    (7.13,0.737),(7.83,0.541),(7.88,0.552),(8.07,0.541),(8.26,0.541),(8.35,0.531),(8.49,0.52),(8.63,0.541),(8.70,0.552),
    (9.01,0.541),(9.08,0.52),(9.22,0.51),(8.86,0.488),(8.91,0.499),(9.15,0.488),(8.79,0.462),(8.72,0.446),(8.63,0.435),
    (8.49,0.467),(8.42,0.446),(8.51,0.425),(8.30,0.467),(8.21,0.451),(8.26,0.425),(8.12,0.483),(8.00,0.467),(8.07,0.446),
    (7.88,0.414),(7.95,0.393),(8.07,0.383),(7.79,0.361),(7.86,0.34),(7.74,0.319),(8.26,0.361),(8.37,0.34),(8.54,0.361),
    (8.63,0.388),(8.72,0.372),(8.86,0.361),(8.94,0.404),(9.03,0.393),(9.15,0.404),(9.05,0.34),(9.17,0.335),(9.19,0.367),
    (8.72,0.309),(8.63,0.293),(8.21,0.309),(7.58,0.309),(7.65,0.293),(7.51,0.277),(7.88,0.309),(7.83,0.282),(7.20,0.298),
    (7.32,0.288),(7.11,0.303),(8.05,0.48),(8.12,0.56),(8.18,0.43),(8.24,0.59),(8.31,0.50),(8.38,0.46),(8.44,0.55),
    (8.15,0.66),(8.33,0.72),(8.42,0.40),
]

# normal genes, high-expression tail (x > 9.2)
normal_tail = [
    (10.73,1.185),(11.11,1.202),(11.25,1.17),(11.68,1.206),(12.63,1.192),(9.75,1.113),(9.63,1.02),(10.16,1.018),
    (10.23,1.015),(10.66,1.031),(11.05,1.012),(9.43,0.985),(9.45,0.99),(9.78,0.977),(9.81,0.964),(9.32,0.948),
    (9.35,0.943),(9.39,0.951),(9.63,0.958),(9.63,0.932),(9.92,0.95),(10.12,0.946),(10.20,0.951),(10.21,0.98),
    (10.30,0.994),(10.39,0.956),(10.41,0.967),(10.47,0.932),(10.64,0.946),(10.84,0.961),(10.91,0.959),(11.12,0.945),
    (11.20,0.968),(11.23,0.948),(11.49,0.977),(11.54,0.964),(11.52,0.948),(11.85,0.97),(11.86,0.948),(12.04,0.951),
    (12.13,0.98),(12.84,0.971),(12.87,0.974),(12.68,0.92),(12.91,0.926),(13.02,0.914),(9.40,0.899),(9.48,0.862),
    (9.30,0.845),(9.25,0.827),(9.41,0.832),(9.50,0.834),(9.52,0.814),(9.28,0.826),(10.09,0.913),(10.13,0.913),
    (10.21,0.927),(10.17,0.885),(10.24,0.866),(10.37,0.888),(10.33,0.925),(10.40,0.912),(10.46,0.905),(10.53,0.891),
    (10.53,0.856),(10.47,0.792),(10.35,0.86),(10.40,0.836),(10.45,0.842),(10.23,0.847),(10.24,0.819),(10.12,0.825),
    (10.04,0.84),(9.91,0.839),(9.92,0.826),(9.90,0.836),(10.65,0.83),(10.71,0.856),(10.77,0.868),(10.82,0.81),
    (10.68,0.781),(10.93,0.816),(10.94,0.798),(10.98,0.784),(11.01,0.769),(11.00,0.762),(11.11,0.815),(11.11,0.924),
    (11.25,0.912),(11.26,0.887),(11.24,0.798),(11.42,0.92),(11.45,0.851),(11.47,0.766),(11.59,0.882),(11.59,0.789),
    (11.80,0.845),(11.81,0.845),(11.92,0.802),(11.84,0.755),(11.94,0.72),(11.61,0.707),(11.12,0.698),(11.06,0.713),
    (10.63,0.647),(10.49,0.647),(12.15,0.88),(12.18,0.879),(12.51,0.698),(12.64,0.761),(12.70,0.835),(12.75,0.847),
    (12.92,0.875),(9.35,0.769),(9.50,0.778),(9.66,0.762),(9.73,0.755),(9.80,0.722),(9.88,0.775),(9.93,0.736),
    (10.15,0.734),(10.21,0.707),(10.42,0.742),(10.50,0.737),(9.59,0.641),(9.49,0.630),(9.65,0.608),(9.94,0.608),
    (9.27,0.574),(9.86,0.566),(9.73,0.533),(9.78,0.536),(9.96,0.523),(9.84,0.498),(9.88,0.482),(9.50,0.48),
    (9.32,0.514),(9.36,0.513),(9.32,0.501),(9.35,0.493),(9.26,0.513),(9.27,0.45),(9.38,0.446),(9.40,0.46),
    (9.43,0.418),(9.47,0.386),(9.25,0.441),(9.80,0.438),(9.68,0.427),(9.64,0.422),(9.77,0.412),(9.87,0.423),
    (9.69,0.396),(9.96,0.39),(10.03,0.444),(10.06,0.445),(9.84,0.37),(9.62,0.338),(9.69,0.324),(10.25,0.499),
    (10.38,0.447),(10.49,0.427),(10.68,0.498),(10.67,0.479),(10.66,0.441),(10.61,0.353),(11.18,0.483),(11.18,0.474),
    (11.22,0.423),(11.74,0.412),(11.95,0.448),
]

# outliers, upper band
outlier_upper = [
    (2.79,1.893),(2.74,1.696),(3.81,1.722),(4.06,1.696),(4.42,1.623),(4.20,1.575),(2.30,1.571),(2.91,1.57),(2.85,1.538),
    (2.72,1.53),(2.62,1.508),(2.58,1.488),(3.78,1.506),(4.50,1.479),(4.00,1.471),(3.35,1.453),(3.42,1.461),(3.54,1.466),
    (3.59,1.434),(3.67,1.433),(3.83,1.411),(3.22,1.41),(3.27,1.394),(3.16,1.383),(3.72,1.394),(4.23,1.398),(4.28,1.37),
    (4.51,1.39),(3.07,1.386),(3.23,1.371),(3.80,1.364),(3.16,1.351),(3.59,1.346),(3.87,1.357),(4.10,1.337),(4.24,1.345),
    (4.44,1.343),(3.29,1.332),(3.34,1.331),(3.43,1.341),(3.78,1.335),(3.89,1.328),(4.30,1.332),(3.67,1.31),(3.61,1.292),
    (3.63,1.29),(3.97,1.313),(3.70,1.265),(3.91,1.262),(4.01,1.268),(4.07,1.265),(4.13,1.286),(4.17,1.286),(4.29,1.278),
    (4.50,1.282),(4.00,1.244),(4.05,1.223),(4.19,1.246),(4.35,1.244),(4.26,1.212),(4.17,1.204),(4.48,1.217),(4.52,1.214),
    (4.49,1.202),(4.03,1.196),(4.21,1.157),(4.38,1.163),(4.34,1.143),(4.43,1.128),(4.52,1.112),(4.55,1.191),
    (4.88,1.938),(5.17,1.45),(5.39,1.468),(8.59,1.459),(5.21,1.395),(4.51,1.358),(5.09,1.346),(5.54,1.366),
    (5.72,1.354),(6.31,1.36),(6.92,1.367),(6.67,1.313),(6.14,1.319),(5.24,1.315),(4.57,1.313),(4.67,1.318),(4.77,1.32),
    (4.83,1.31),(4.83,1.322),(4.95,1.284),(5.10,1.287),(4.69,1.283),(4.74,1.278),(4.51,1.281),(4.99,1.274),(5.20,1.275),
    (5.31,1.265),(5.53,1.268),(5.61,1.262),(5.74,1.282),(5.80,1.293),(5.94,1.294),(5.47,1.252),(6.07,1.25),(6.15,1.256),
    (5.92,1.243),(6.81,1.264),(7.66,1.221),(4.64,1.246),(4.91,1.252),(5.08,1.243),(5.15,1.235),(5.31,1.236),(5.52,1.24),
    (4.53,1.218),(4.70,1.207),(4.73,1.209),(4.94,1.226),(5.00,1.196),(5.24,1.212),(5.29,1.218),(5.37,1.212),(5.49,1.195),
    (5.21,1.194),(5.32,1.192),(5.59,1.185),(5.79,1.216),(6.12,1.21),(6.26,1.219),(6.31,1.214),(4.80,1.193),(4.55,1.192),
    (5.70,1.175),(5.81,1.179),(5.93,1.168),(6.11,1.189),(6.18,1.182),(6.28,1.202),(6.50,1.196),(6.64,1.195),(6.72,1.176),
    (6.78,1.212),(6.83,1.169),(6.87,1.176),(7.15,1.164),(7.43,1.163),(7.62,1.182),(8.36,1.17),(9.17,1.195),(4.58,1.163),
    (4.69,1.163),(4.72,1.159),(4.90,1.151),(4.94,1.151),(5.03,1.146),(5.15,1.152),(5.33,1.158),(5.35,1.133),(5.62,1.16),
    (5.82,1.163),(5.94,1.16),(6.11,1.163),(6.45,1.164),(6.55,1.16),(6.71,1.153),(6.80,1.139),(6.86,1.143),(6.90,1.155),
    (7.01,1.153),(7.04,1.142),(7.45,1.149),(7.83,1.135),(7.96,1.146),(8.07,1.149),(8.09,1.153),(8.43,1.133),(8.55,1.135),
    (8.99,1.132),(9.04,1.126),(9.14,1.132),(4.62,1.14),(4.67,1.135),(4.71,1.124),(4.81,1.124),(4.87,1.126),(4.95,1.117),
    (4.99,1.119),(5.07,1.116),(5.12,1.117),(5.18,1.132),(5.25,1.121),(5.28,1.116),(5.42,1.126),(5.59,1.12),(5.69,1.122),
    (5.73,1.119),(5.77,1.136),(5.86,1.14),(5.91,1.132),(5.97,1.144),(6.04,1.114),(6.08,1.13),(6.16,1.13),(6.22,1.131),
    (6.25,1.122),(6.43,1.114),(6.46,1.109),(6.55,1.129),(6.62,1.122),(6.68,1.109),(7.31,1.115),(7.34,1.106),(7.43,1.103),
    (7.63,1.113),(7.96,1.114),(7.97,1.119),(8.31,1.113),(8.50,1.119),(8.69,1.092),(8.46,1.103),(9.03,1.098),(9.24,1.084),
    (4.51,1.11),(4.54,1.114),(4.68,1.099),(4.76,1.101),(4.87,1.092),(4.99,1.094),(5.11,1.091),(5.17,1.098),(5.22,1.094),
    (5.38,1.08),(5.50,1.098),(5.57,1.096),(5.63,1.098),(5.70,1.092),(5.79,1.101),(5.83,1.107),(5.97,1.087),(6.05,1.098),
    (6.14,1.094),(6.16,1.085),(6.32,1.092),(6.51,1.083),(6.75,1.097),(7.11,1.097),(7.21,1.09),(7.28,1.075),(7.39,1.072),
    (7.52,1.066),(7.59,1.069),(7.68,1.083),(7.80,1.09),(7.87,1.099),(7.98,1.091),(7.99,1.075),(8.22,1.072),(8.57,1.078),
    (8.86,1.07),(4.60,1.064),(4.54,1.061),(4.97,1.057),(5.05,1.064),(5.16,1.06),(5.18,1.071),(5.27,1.054),(5.30,1.05),
    (5.28,1.045),(5.37,1.062),(5.43,1.052),(5.58,1.045),(5.68,1.075),(5.71,1.047),(5.82,1.041),(5.93,1.048),(6.11,1.04),
    (6.26,1.054),(6.31,1.064),(6.38,1.041),(6.55,1.062),(6.59,1.059),(6.63,1.075),(6.68,1.035),(6.80,1.044),(6.93,1.043),
    (7.03,1.059),(7.16,1.044),(7.37,1.047),(7.74,1.046),(7.79,1.059),(7.87,1.041),(7.92,1.045),(8.66,1.059),(8.44,1.05),
    (8.69,1.038),(5.16,1.033),(5.29,1.033),(5.42,1.022),(5.54,1.017),(5.71,0.990),(5.79,1.017),(5.82,0.98),(5.91,1.017),
    (5.92,1.001),(6.01,1.003),(6.05,1.022),(6.12,1.033),(6.15,0.99),(6.17,0.98),(6.15,0.969),(6.28,0.99),(6.29,1.012),
    (6.33,0.996),(6.47,0.956),(6.57,0.99),(6.65,1.027),(6.68,1.017),(6.77,0.99),(6.79,0.959),(6.80,0.975),(6.98,1.006),
    (6.99,0.964),(7.00,0.98),(7.07,1.017),(7.08,0.953),(7.15,0.956),(7.18,1.017),(7.27,1.006),(7.32,1.012),(7.34,1.001),
    (7.37,0.956),(7.28,0.943),(7.50,0.985),(7.56,1.022),(7.64,0.964),(7.68,1.017),(7.69,0.956),(7.85,0.985),(7.89,1.038),
    (8.06,0.987),(8.26,0.987),(8.36,0.998),(8.68,1.038),(4.51,1.038),(4.62,1.03),(4.76,1.033),(5.00,1.033),
]

# outliers, lower band
outlier_lower = [
    (1.28,0.526),(1.38,0.507),(1.43,0.480),(1.71,0.486),(1.56,0.469),(1.59,0.466),(1.11,0.460),(1.19,0.451),(1.81,0.455),
    (1.94,0.465),(2.05,0.457),(1.58,0.444),(2.04,0.439),(2.16,0.438),(2.24,0.430),(1.12,0.403),(1.33,0.395),(1.61,0.398),
    (2.25,0.406),(2.30,0.388),(2.62,0.409),(2.76,0.412),(2.61,0.393),(2.64,0.381),(0.54,0.375),(0.64,0.359),(1.57,0.368),
    (2.01,0.361),(2.32,0.372),(2.33,0.342),(1.85,0.337),(2.67,0.358),(2.80,0.358),(2.98,0.371),(3.11,0.345),(3.15,0.340),
    (3.25,0.365),(3.33,0.366),(3.34,0.34),(3.36,0.335),(3.41,0.353),(3.52,0.361),(3.55,0.356),(3.60,0.353),(3.54,0.346),
    (3.55,0.327),(3.75,0.343),(3.84,0.34),(3.91,0.340),(4.06,0.330),(4.21,0.320),(4.43,0.309),(4.47,0.291),(4.55,0.303),
    (2.91,0.314),(2.97,0.287),(3.19,0.296),(3.23,0.298),(3.26,0.293),(3.33,0.285),(3.63,0.286),(3.85,0.305),(4.03,0.305),
    (4.01,0.296),(2.78,0.272),(4.08,0.253),(4.00,0.266),(4.17,0.253),(4.21,0.25),(4.30,0.282),(4.44,0.274),(4.45,0.259),
    (4.41,0.235),(4.44,0.235),(4.02,0.228),(4.18,0.210),(4.20,0.169),(4.55,0.305),(4.62,0.301),(4.64,0.29),(4.56,0.291),
    (4.76,0.293),(4.90,0.275),(5.10,0.284),(5.35,0.277),(5.40,0.282),(5.43,0.269),(5.63,0.272),(5.65,0.258),(5.70,0.258),
    (5.78,0.279),(5.83,0.25),(5.93,0.256),(5.97,0.25),(6.05,0.229),(6.10,0.229),(6.17,0.235),(6.24,0.247),(6.31,0.258),
    (6.32,0.226),(6.36,0.229),(6.46,0.214),(6.57,0.25),(6.65,0.232),(6.79,0.258),(6.80,0.222),(7.18,0.25),(7.22,0.24),
    (7.25,0.219),(7.33,0.245),(7.56,0.257),(7.88,0.203),(4.69,0.222),(4.79,0.232),(4.86,0.237),(4.87,0.258),(5.18,0.211),
    (5.26,0.205),(5.33,0.201),(5.69,0.178),(6.08,0.158),(6.26,0.157),(4.80,0.151),(6.68,0.107),(8.61,0.273),(8.87,0.25),
    (9.09,0.256),(9.11,0.247),(9.15,0.272),
]

# outliers at high expression
outlier_tail = [
    (9.74,1.185),(10.05,1.197),(9.37,1.097),(9.25,1.084),(9.41,0.314),(9.68,0.309),(11.15,0.367),(11.53,0.314),
    (12.48,0.412),(12.92,0.413),(12.67,0.354),(13.12,0.320),(13.50,0.444),
]

legend_labels = ["Normal", "Outlier"]
point_colors = ["black", "red"]

normal_pts = normal_upper_left + normal_lower_left + normal_core_left + normal_core_mid + normal_core_right + normal_right + normal_tail
outlier_pts = outlier_upper + outlier_lower + outlier_tail
normal_x, normal_y = zip(*normal_pts)
outlier_x, outlier_y = zip(*outlier_pts)

FONT = "Liberation Sans, Arial, sans-serif"

fig = go.Figure()
fig.add_trace(go.Scatter(x=normal_x, y=normal_y, mode="markers", showlegend=False,
                         marker=dict(color=point_colors[0], size=3.8, line=dict(width=0))))
fig.add_trace(go.Scatter(x=outlier_x, y=outlier_y, mode="markers", showlegend=False,
                         marker=dict(color=point_colors[1], size=3.8, line=dict(width=0))))
fig.add_trace(go.Scatter(x=trend_x, y=trend_y, mode="lines", showlegend=False,
                         line=dict(color="#0000ff", width=1.5, shape="spline", smoothing=1.0)))

# legend entries with the large dot symbol
for name, col in zip(legend_labels, point_colors):
    fig.add_trace(go.Scatter(x=[None], y=[None], mode="markers", name=name + "\u00a0",
                             marker=dict(color=col, size=11)))

# the page adds an 8px body margin, so the margins are shifted by that amount
fig.update_layout(
    width=1200, height=900,
    margin=dict(l=115, r=71, t=115, b=162),
    paper_bgcolor="white", plot_bgcolor="white",
    font=dict(family=FONT, size=25, color="black"),
    legend=dict(x=1, y=1, xanchor="right", yanchor="top", bgcolor="white",
                bordercolor="black", borderwidth=1, font=dict(size=25),
                tracegroupgap=0, itemwidth=30),
)
fig.update_xaxes(range=[-0.235, 14.03], tickvals=[0, 2, 4, 6, 8, 10, 12, 14], automargin=False,
                 showgrid=False, zeroline=False, showline=True, mirror=True, linecolor="black", linewidth=1,
                 ticks="outside", ticklen=15, tickcolor="black", tickwidth=1, ticklabelstandoff=9,
                 title=dict(text="Average log-expression", standoff=38, font=dict(size=25)))
fig.update_yaxes(range=[0.036, 2.012], tickvals=[0.5, 1.0, 1.5, 2.0], ticktext=["0.5", "1.0", "1.5", "2.0"],
                 tickangle=-90, automargin=False,
                 showgrid=False, zeroline=False, showline=True, mirror=True, linecolor="black", linewidth=1,
                 ticks="outside", ticklen=15, tickcolor="black", tickwidth=1, ticklabelstandoff=10,
                 title=dict(text="sqrt(sigma)", standoff=33, font=dict(size=25)))

fig.write_html("out.html")
